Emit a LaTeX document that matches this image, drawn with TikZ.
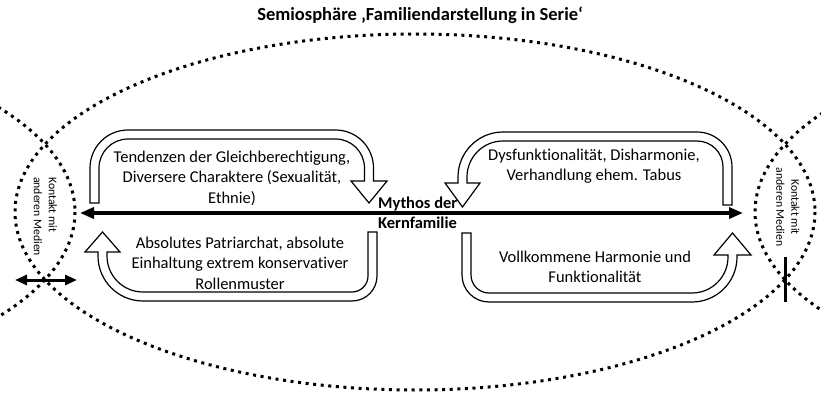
\documentclass[tikz,border=0pt]{standalone}
\usepackage{fontspec}
\setmainfont{Carlito}[Ligatures=NoCommon]
\usetikzlibrary{arrows.meta}
\begin{document}
\begin{tikzpicture}[x=1pt,y=-1pt,
  sphere/.style={line width=3pt, dash pattern=on 3pt off 4.6pt, line cap=butt},
  uarrow/.style={draw=black, fill=white, line width=1.2pt, line join=miter},
  lbl/.style={font=\fontsize{16.5}{20.5}\selectfont, align=center, inner sep=0pt},
  small/.style={font=\fontsize{11.7}{15}\selectfont, inner sep=0pt, rotate=-90},
  axis/.style={line width=3.3pt, {Triangle[length=14pt,width=11pt]}-{Triangle[length=14pt,width=11pt]}},
  contact/.style={line width=3pt, {Triangle[length=12pt,width=10pt]}-{Triangle[length=12pt,width=10pt]}},
]
\useasboundingbox (0,0) rectangle (821,395);

% semiospheres: the main one and its two neighbours
\begin{scope}
  \clip (0,0) rectangle (821,395);
  \draw[sphere] (415,212) ellipse [x radius=400, y radius=178];
  \draw[sphere] (-325,212) ellipse [x radius=400, y radius=178];
  \draw[sphere] (1155,212) ellipse [x radius=400, y radius=178];
\end{scope}

% title
\node[font=\fontsize{18.5}{21}\selectfont\bfseries, inner sep=0pt] (title) at (420,15)
  {Semiosphäre ‚Familiendarstellung in Serie‘};

% U-turn arrows
% top left, turning down onto the axis
\draw[uarrow] (90,203) -- (90,168) arc[start angle=180, end angle=270, radius=38]
  -- (335.5,130) arc[start angle=270, end angle=360, radius=38]
  -- (373.5,181) -- (387,181) -- (369,203) -- (351,181) -- (364.5,181)
  -- (364.5,168) arc[start angle=0, end angle=-90, radius=29]
  -- (128,139) arc[start angle=270, end angle=180, radius=29]
  -- (99,203) -- cycle;
% bottom left, turning up towards the axis
\draw[uarrow] (368,232) -- (377,232) -- (377,276) arc[start angle=0, end angle=90, radius=25]
  -- (143,301) arc[start angle=90, end angle=180, radius=45]
  -- (98,252) -- (85,252) -- (102.5,232) -- (120,252) -- (107,252)
  -- (107,256) arc[start angle=180, end angle=90, radius=36]
  -- (352,292) arc[start angle=90, end angle=0, radius=16]
  -- cycle;
% top right, turning down onto the axis
\draw[uarrow] (723,205) -- (732,205) -- (732,167) arc[start angle=0, end angle=-90, radius=35]
  -- (503,132) arc[start angle=270, end angle=180, radius=45]
  -- (458,183) -- (445,183) -- (462.5,207) -- (480,183) -- (467,183)
  -- (467,177) arc[start angle=180, end angle=270, radius=36]
  -- (697,141) arc[start angle=270, end angle=360, radius=26]
  -- cycle;
% bottom right, turning up towards the axis
\draw[uarrow] (471,233) -- (462,233) -- (462,275) arc[start angle=180, end angle=90, radius=27]
  -- (692,302) arc[start angle=90, end angle=0, radius=45]
  -- (737,255) -- (751,255) -- (732.5,233) -- (714,255) -- (728,255)
  -- (728,257) arc[start angle=0, end angle=90, radius=36]
  -- (489,293) arc[start angle=90, end angle=180, radius=18]
  -- cycle;

% texts of the arrows
\node[lbl] (tl) at (232,178) {Tendenzen der Gleichberechtigung,\\Diversere Charaktere (Sexualität,\\Ethnie)};
\node[lbl] (bl) at (240,263) {Absolutes Patriarchat, absolute\\Einhaltung extrem konservativer\\Rollenmuster};
\node[lbl] (tr) at (594,166) {Dysfunktionalität, Disharmonie,\\Verhandlung ehem. Tabus};
\node[lbl] (br) at (595,267) {Vollkommene Harmonie und\\Funktionalität};

% central axis
\coordinate (axL) at (80,213);
\coordinate (axR) at (743,213);
\draw[axis] (axL) -- (axR);
\node[lbl, font=\fontsize{16.5}{19.5}\selectfont\bfseries, align=left, anchor=west] (myth) at (378,213)
  {Mythos der\\Kernfamilie};

% contact zones
\node[small, align=left, anchor=west] (kl) at (45.5,177) {Kontakt mit\\anderen Medien};
\node[small, align=center] (kr) at (788,207) {Kontakt mit\\anderen Medien};
\coordinate (cL1) at (15,280);
\coordinate (cL2) at (77,280);
\draw[contact] (cL1) -- (cL2);
\coordinate (cR1) at (785,257);
\coordinate (cR2) at (785,302);
\draw[line width=3pt] (cR1) -- (cR2);
\end{tikzpicture}
\end{document}
